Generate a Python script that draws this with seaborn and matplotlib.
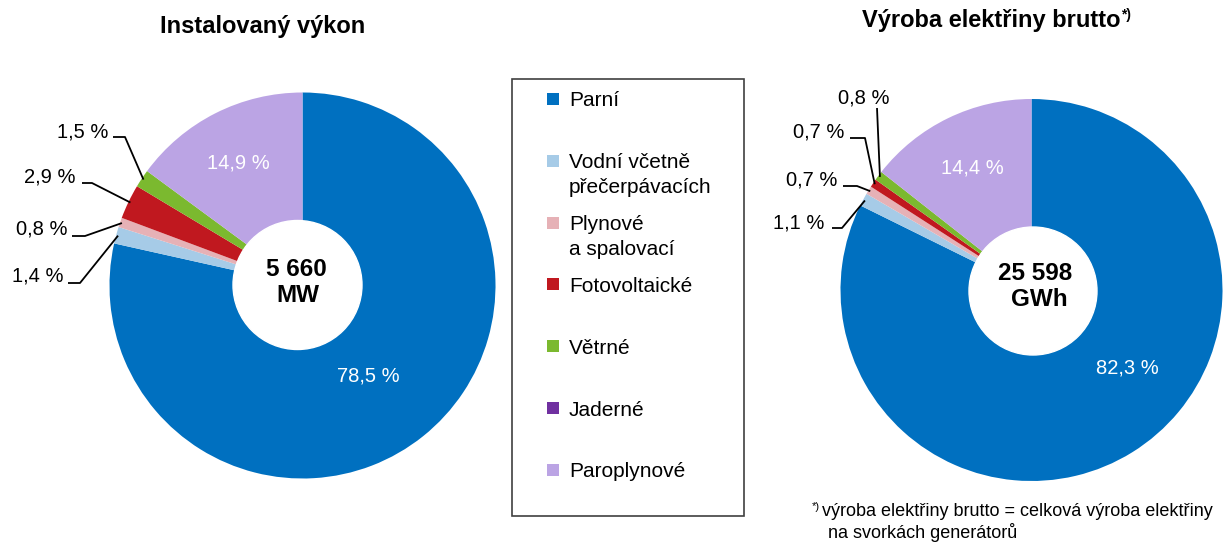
import matplotlib
matplotlib.use("Agg")
import numpy as np
import matplotlib.pyplot as plt
from matplotlib.patches import Circle, Rectangle
import seaborn as sns

# Energy sources and their colours
categories = ["Parní", "Vodní včetně\npřečerpávacích", "Plynové\na spalovací",
              "Fotovoltaické", "Větrné", "Jaderné", "Paroplynové"]
colors = ["#0070C0", "#A6CBE7", "#E6B1B6", "#C0181F", "#7BB92F", "#7030A0", "#BBA4E4"]

# Shares in percent (installed capacity, gross generation)
installed_pct = [78.5, 1.4, 0.8, 2.9, 1.5, 0.0, 14.9]
generation_pct = [82.3, 1.1, 0.7, 0.7, 0.8, 0.0, 14.4]

installed_total = "5 660\nMW"
generation_total = "25 598\nGWh"

sns.set_theme(style="white")
plt.rcParams["font.family"] = ["Liberation Sans", "DejaVu Sans"]
plt.rcParams["text.color"] = "black"

W, H = 1228, 542
fig = plt.figure(figsize=(W / 100, H / 100), dpi=100)
ax = fig.add_axes([0, 0, 1, 1])


def Y(y):
    return H - y


def fmt(v):
    return f"{v:.1f} %".replace(".", ",")


LABEL_FS = 14.5


def draw_pie(values, center, radius, hole, hole_r, total, total_xy,
             inside, callouts):
    cx, cy = center[0], Y(center[1])
    wedges, _ = ax.pie(values, colors=colors, startangle=90, counterclock=False,
                       center=(cx, cy), radius=radius, frame=True,
                       wedgeprops=dict(linewidth=0))
    # white centre disc with the total
    ax.add_patch(Circle((hole[0], Y(hole[1])), hole_r, color="white", zorder=3))
    for (tx, ty), line in zip(total_xy, total.split("\n")):
        ax.text(tx, Y(ty), line, ha="center", va="center", fontsize=17.5,
                fontweight="bold", color="black", zorder=4)
    # labels inside the large wedges
    for i, (tx, ty) in inside.items():
        ax.text(tx, Y(ty), fmt(values[i]), ha="center", va="center",
                fontsize=LABEL_FS, color="white", zorder=4)
    # callouts with leader lines for the thin wedges
    for i, (txt_xy, ha, pts) in callouts.items():
        w = wedges[i]
        th = np.deg2rad((w.theta1 + w.theta2) / 2)
        ax_pt = (cx + radius * 0.99 * np.cos(th), cy + radius * 0.99 * np.sin(th))
        xs = [p[0] for p in pts] + [ax_pt[0]]
        ys = [Y(p[1]) for p in pts] + [ax_pt[1]]
        ax.plot(xs, ys, color="black", lw=1.3, solid_capstyle="butt", zorder=2)
        ax.text(txt_xy[0], Y(txt_xy[1]), fmt(values[i]), ha=ha, va="center",
                fontsize=LABEL_FS, color="black")


draw_pie(installed_pct, center=(302.5, 285.5), radius=193,
         hole=(297.5, 285), hole_r=64.5, total=installed_total,
         total_xy=[(296, 269), (298, 296)],
         inside={0: (368, 376), 6: (238, 163)},
         callouts={
             1: ((63, 276), "right", [(68, 283), (80, 283)]),
             2: ((67, 229), "right", [(72, 236), (85, 236)]),
             3: ((76, 177), "right", [(82, 183), (92, 183)]),
             4: ((108, 132), "right", [(113, 137), (125, 137)]),
         })

draw_pie(generation_pct, center=(1031.5, 290), radius=191,
         hole=(1033, 291), hole_r=64, total=generation_total,
         total_xy=[(1035, 273), (1039, 300)],
         inside={0: (1127, 368), 6: (972, 168)},
         callouts={
             1: ((824, 223), "right", [(832, 228), (842, 228)]),
             2: ((837, 180), "right", [(843, 186), (857, 186)]),
             3: ((844, 132), "right", [(850, 138), (865, 138)]),
             4: ((864, 98), "center", [(877, 108)]),
         })

# Titles
ax.text(263, Y(26), "Instalovaný výkon", ha="center", va="center",
        fontsize=17, fontweight="bold")
ax.text(1120, Y(21), "Výroba elektřiny brutto", ha="right", va="center",
        fontsize=17, fontweight="bold")
ax.text(1121, Y(15), "*)", ha="left", va="center", fontsize=10, fontweight="bold")

# Legend box
bx0, by0, bx1, by1 = 512, 79, 744, 516
ax.add_patch(Rectangle((bx0, Y(by1)), bx1 - bx0, by1 - by0, fill=False,
                       edgecolor="#404040", lw=1.2))
for i, (name, c) in enumerate(zip(categories, colors)):
    ry = 99 + 61.8 * i
    ax.scatter([553], [Y(ry)], marker="s", s=75, color=c, linewidths=0)
    for k, line in enumerate(name.split("\n")):
        ax.text(569, Y(ry + 2 + 25 * k), line, ha="left", va="center", fontsize=15)

# Footnote
ax.text(812, Y(507), "*)", ha="left", va="center", fontsize=8)
ax.text(822, Y(512), "výroba elektřiny brutto = celková výroba elektřiny",
        ha="left", va="center", fontsize=13)
ax.text(828, Y(533), "na svorkách generátorů", ha="left", va="center",
        fontsize=13)

ax.set_xlim(0, W)
ax.set_ylim(0, H)
ax.set_aspect("equal")
ax.axis("off")

fig.savefig("out.png", dpi=100)
